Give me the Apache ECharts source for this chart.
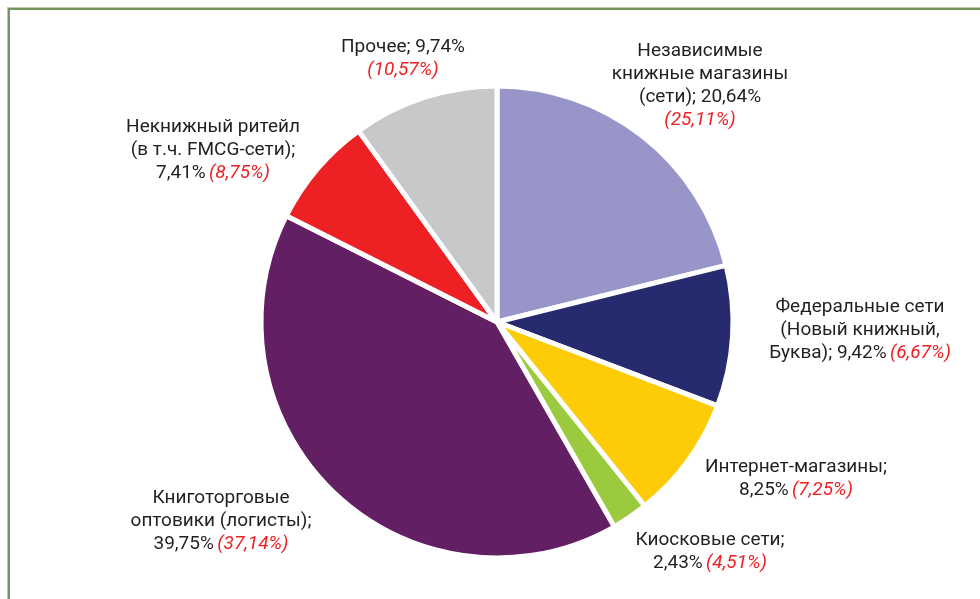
<!DOCTYPE html>
<html>
<head>
<meta charset="utf-8">
<script src="https://cdn.jsdelivr.net/npm/echarts@6/dist/echarts.min.js"></script>
<style>
html,body{margin:0;padding:0;background:#fff;}
#frame{position:absolute;left:8px;top:8px;width:990px;height:600px;border-left:2px solid #76955a;border-top:2px solid #76955a;box-shadow:-1px -1px 0 #b9cca6;}
#chart{position:absolute;left:0;top:0;width:980px;height:599px;}
</style>
</head>
<body>
<div id="frame"></div>
<div id="chart"></div>
<script>
const categories = [
  "Независимые\nкнижные магазины\n(сети)",
  "Федеральные сети\n(Новый книжный,\nБуква)",
  "Интернет-магазины",
  "Киосковые сети",
  "Книготорговые\nоптовики (логисты)",
  "Некнижный ритейл\n(в т.ч. FMCG-сети)",
  "Прочее"
];
const values = [20.64, 9.42, 8.25, 2.43, 39.75, 7.41, 9.74];
const prevValues = [25.11, 6.67, 7.25, 4.51, 37.14, 8.75, 10.57];
const colors = ["#9896c9", "#262a6f", "#fecc07", "#9bca3e", "#631f63", "#ed2024", "#c7c8ca"];

// label text layout (line breaks of each label)
const labelTemplates = [
  "{n|Независимые}\n{n|книжные магазины}\n{n|(сети); V}\n{r|(P)}",
  "{n|Федеральные сети}\n{n|(Новый книжный,}\n{n|Буква); V} {r|(P)}",
  "{n|Интернет-магазины;}\n{n|V} {r|(P)}",
  "{n|Киосковые сети;}\n{n|V} {r|(P)}",
  "{n|Книготорговые}\n{n|оптовики (логисты);}\n{n|V} {r|(P)}",
  "{n|Некнижный ритейл}\n{n|(в т.ч. FMCG-сети);}\n{n|V} {r|(P)}",
  "{n|Прочее; V}\n{r|(P)}"
];
// label anchor positions (centre of each label block)
const labelPos = [[700, 86], [860, 330], [796, 479], [710, 552], [221, 521], [213, 150], [403, 59]];

const fmt = v => v.toFixed(2).replace('.', ',') + '%';

const chart = echarts.init(document.getElementById('chart'), null, {renderer: 'canvas'});
const FONT = 'Roboto, sans-serif';
chart.setOption({
  animation: false,
  backgroundColor: 'transparent',
  series: [{
    type: 'pie',
    center: [497, 322],
    radius: [0, 236],
    startAngle: 90,
    clockwise: true,
    avoidLabelOverlap: false,
    itemStyle: {borderColor: '#ffffff', borderWidth: 5},
    label: {
      show: true,
      position: 'outside',
      align: 'center',
      formatter: p => labelTemplates[p.dataIndex].replace('V', fmt(values[p.dataIndex])).replace('P', fmt(prevValues[p.dataIndex])),
      rich: {
        n: {fontFamily: FONT, fontSize: 19, color: '#231f20', lineHeight: 23},
        r: {fontFamily: FONT, fontSize: 19, color: '#ed2024', fontStyle: 'italic', lineHeight: 23}
      }
    },
    labelLine: {show: false},
    labelLayout: p => ({x: labelPos[p.dataIndex][0], y: labelPos[p.dataIndex][1], align: 'center', verticalAlign: 'middle'}),
    data: categories.map((c, i) => ({name: c, value: values[i], itemStyle: {color: colors[i]}}))
  }]
});
</script>
</body>
</html>
